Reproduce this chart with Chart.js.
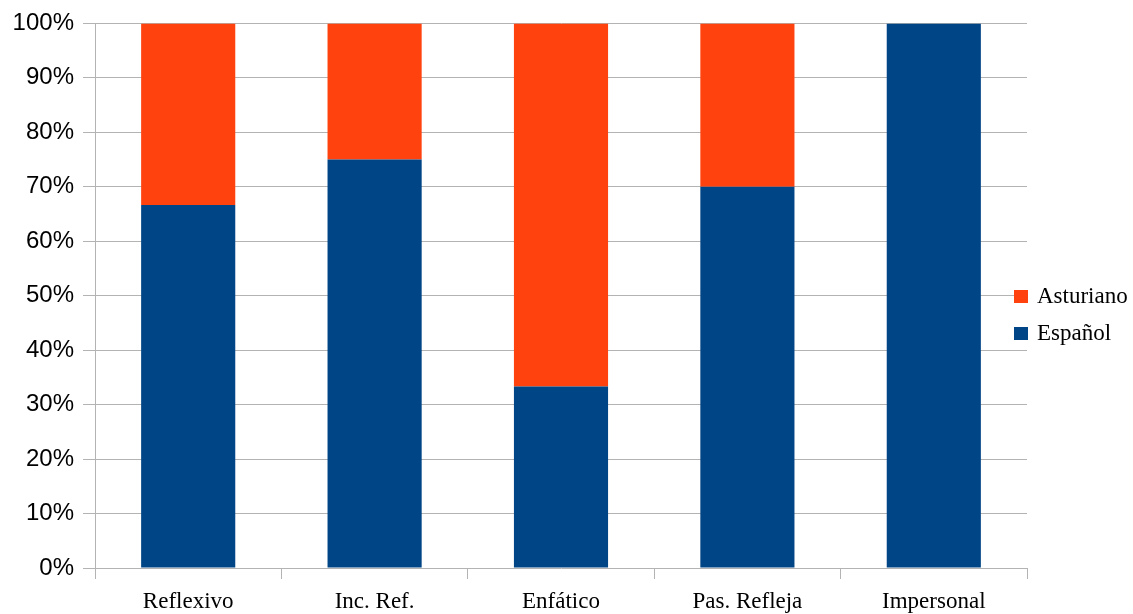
<!DOCTYPE html>
<html>
<head>
<meta charset="utf-8">
<script src="https://cdn.jsdelivr.net/npm/chart.js@4"></script>
<style>
  body { margin: 0; background: #fff; }
</style>
</head>
<body>
<canvas id="chart" width="1133" height="614"></canvas>
<script>
// categories and series (percent of each category)
var categories = ["Reflexivo", "Inc. Ref.", "Enfático", "Pas. Refleja", "Impersonal"];
var espanol = [66.67, 75, 33.33, 70, 100];
var asturiano = [33.33, 25, 66.67, 30, 0];
var yTicks = [0, 10, 20, 30, 40, 50, 60, 70, 80, 90, 100];

var gridColor = "#b3b3b3";

/* legend drawn to the right, over the plot edge like the original */
var sideLegend = {
  id: "sideLegend",
  afterDraw: function(chart) {
    var ctx = chart.ctx;
    var items = [chart.data.datasets[1], chart.data.datasets[0]];
    ctx.save();
    ctx.font = "23px 'Liberation Serif'";
    ctx.textBaseline = "middle";
    ctx.textAlign = "left";
    items.forEach(function(ds, i) {
      var y = 290 + i * 37;
      ctx.fillStyle = ds.backgroundColor;
      ctx.fillRect(1014, y, 14, 13);
      ctx.fillStyle = "#000";
      ctx.fillText(ds.label, 1037, y + 7);
    });
    ctx.restore();
  }
};

var chart = new Chart(document.getElementById("chart"), {
  type: "bar",
  data: {
    labels: categories,
    datasets: [
      {
        label: "Español",
        data: espanol,
        backgroundColor: "#004586",
        barPercentage: 0.505,
        categoryPercentage: 1
      },
      {
        label: "Asturiano",
        data: asturiano,
        backgroundColor: "#ff420e",
        barPercentage: 0.505,
        categoryPercentage: 1
      }
    ]
  },
  options: {
    responsive: false,
    animation: false,
    layout: { padding: { top: 22, right: 106, left: 0, bottom: 0 } },
    plugins: {
      legend: { display: false },
      tooltip: { enabled: false }
    },
    scales: {
      x: {
        stacked: true,
        afterFit: function(scale) { scale.height = 46; },
        grid: {
          offset: true,
          drawOnChartArea: true,
          color: function(c) {
            return (c.index === 0 || c.index === categories.length) ? gridColor : "rgba(0,0,0,0)";
          },
          tickColor: gridColor,
          tickLength: 11
        },
        border: { display: false },
        ticks: {
          color: "#000",
          padding: 9,
          maxRotation: 0,
          font: { family: "'Liberation Serif'", size: 23 }
        }
      },
      y: {
        stacked: true,
        min: 0,
        max: 100,
        afterFit: function(scale) { scale.width = 95; },
        afterBuildTicks: function(scale) {
          scale.ticks = yTicks.map(function(v) { return { value: v }; });
        },
        grid: { color: gridColor, tickLength: 12 },
        border: { display: true, color: gridColor },
        ticks: {
          color: "#000",
          padding: 9,
          font: { family: "'Liberation Sans'", size: 24 },
          callback: function(v) { return v + "%"; }
        }
      }
    }
  },
  plugins: [sideLegend]
});
</script>
</body>
</html>
